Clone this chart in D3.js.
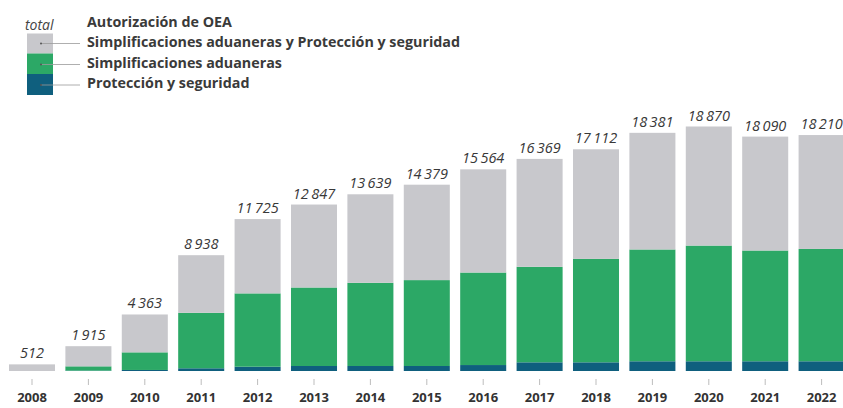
<!DOCTYPE html>
<html>
<head>
<meta charset="utf-8">
<script src="https://cdn.jsdelivr.net/npm/d3@7"></script>
<style>
  body { margin: 0; background: #fff; }
  svg { display: block; font-family: "Open Sans", sans-serif; }
</style>
</head>
<body>
<script>
var years = ["2008", "2009", "2010", "2011", "2012", "2013", "2014", "2015",
             "2016", "2017", "2018", "2019", "2020", "2021", "2022"];
// total de autorizaciones OEA (etiquetas)
var totals = [512, 1915, 4363, 8938, 11725, 12847, 13639, 14379,
              15564, 16369, 17112, 18381, 18870, 18090, 18210];
// Simplificaciones aduaneras
var simplificaciones = [0, 330, 1360, 4280, 5660, 6060, 6420, 6630,
                        7140, 7370, 7980, 8630, 8930, 8550, 8670];
// Protección y seguridad
var proteccion = [0, 30, 80, 210, 330, 385, 385, 385,
                  460, 670, 670, 750, 750, 750, 750];

var legendLabels = ["Simplificaciones aduaneras y Protección y seguridad",
                    "Simplificaciones aduaneras",
                    "Protección y seguridad"];

var width = 843, height = 408,
    colors = {ambos: "#c8c8cc", simp: "#2ca866", prot: "#0f5f7e"};

var svg = d3.select("body").append("svg")
    .attr("width", width)
    .attr("height", height);

var data = years.map((y, i) => ({
  year: y,
  prot: proteccion[i],
  simp: simplificaciones[i],
  ambos: totals[i] - simplificaciones[i] - proteccion[i],
  total: totals[i]
}));

var stack = d3.stack().keys(["prot", "simp", "ambos"]);
var series = stack(data);

var x = d3.scaleBand()
    .domain(years)
    .range([3.8, 849.8])
    .paddingInner(0.184)
    .paddingOuter(0.092);

var y = d3.scaleLinear()
    .domain([0, 18870])
    .range([371, 126.5]);

svg.append("g").selectAll("g")
    .data(series)
  .enter().append("g")
    .attr("fill", (d) => colors[d.key])
  .selectAll("rect")
    .data((d) => d)
  .enter().append("rect")
    .attr("x", (d) => x(d.data.year))
    .attr("width", x.bandwidth())
    .attr("y", (d) => y(d[1]))
    .attr("height", (d) => y(d[0]) - y(d[1]));

// etiquetas de total
var fmt = (v) => d3.format(",d")(v).replace(/,/g, "\u2009");
svg.append("g").selectAll("text")
    .data(data)
  .enter().append("text")
    .attr("x", (d) => x(d.year) + x.bandwidth() / 2)
    .attr("y", (d) => y(d.total) - 6)
    .attr("text-anchor", "middle")
    .style("font-style", "italic")
    .style("font-size", "14.5px")
    .attr("fill", "#383838")
    .text((d) => fmt(d.total));

// eje x
var xAxis = svg.append("g")
    .attr("transform", "translate(0,379)")
    .call(d3.axisBottom(x).tickSize(6).tickPadding(8));
xAxis.select(".domain").remove();
xAxis.selectAll(".tick line").attr("stroke", "#bdbdbd");
xAxis.selectAll(".tick text")
    .attr("fill", "#333")
    .style("font-size", "13px")
    .style("font-weight", "700")
    .style("font-family", "'Open Sans', sans-serif");

// leyenda
var legend = svg.append("g");
legend.append("text")
    .attr("x", 25).attr("y", 30)
    .style("font-style", "italic")
    .style("font-size", "14px")
    .attr("fill", "#444")
    .text("total");
legend.append("text")
    .attr("x", 87).attr("y", 27)
    .style("font-weight", "700")
    .style("font-size", "14.3px")
    .attr("fill", "#3a3a3a")
    .text("Autorización de OEA");

var swatches = [
  {key: "ambos", y0: 33.5, y1: 53.5, ly: 43.5, ty: 47},
  {key: "simp", y0: 53.5, y1: 74, ly: 64.5, ty: 67.5},
  {key: "prot", y0: 74, y1: 95, ly: 85, ty: 88}
];
var items = legend.selectAll(".item")
    .data(swatches)
  .enter().append("g")
    .attr("class", "item");
items.append("rect")
    .attr("x", 27).attr("width", 26)
    .attr("y", (d) => d.y0)
    .attr("height", (d) => d.y1 - d.y0)
    .attr("fill", (d) => colors[d.key]);
items.append("line")
    .attr("x1", 41).attr("x2", 80)
    .attr("y1", (d) => d.ly).attr("y2", (d) => d.ly)
    .attr("stroke", "#9a9a9a")
    .attr("stroke-width", 0.8);
items.append("circle")
    .attr("cx", 41).attr("cy", (d) => d.ly)
    .attr("r", 1)
    .attr("fill", "#555");
items.append("text")
    .attr("x", 87)
    .attr("y", (d) => d.ty)
    .style("font-weight", "700")
    .style("font-size", "14.3px")
    .attr("fill", "#3a3a3a")
    .text((d, i) => legendLabels[i]);
</script>
</body>
</html>
